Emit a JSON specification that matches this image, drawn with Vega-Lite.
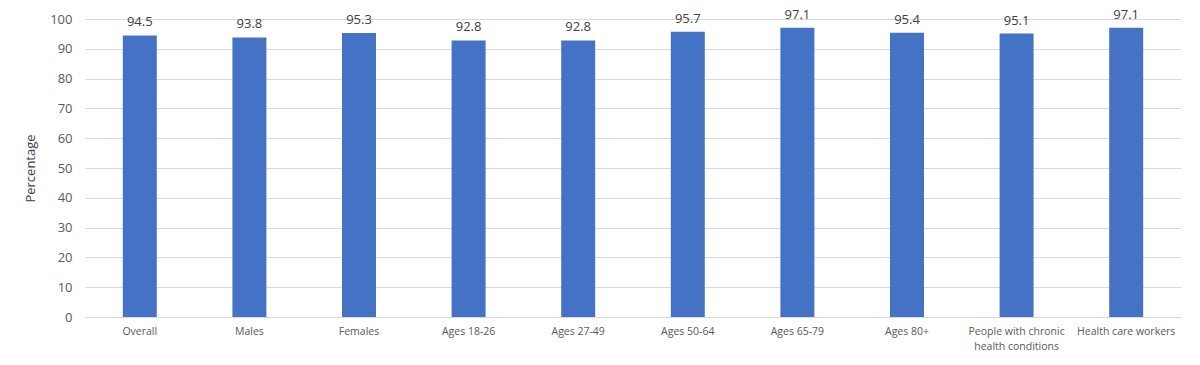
{
  "$schema": "https://vega.github.io/schema/vega-lite/v6.json",
  "autosize": {"type": "none"},
  "width": 1096,
  "height": 298,
  "padding": {"left": 85, "top": 19, "right": 19, "bottom": 48},
  "background": "white",
  "config": {
    "view": {"stroke": null},
    "font": "Open Sans"
  },
  "data": {
    "values": [
      {"group": "Overall", "pct": 94.5},
      {"group": "Males", "pct": 93.8},
      {"group": "Females", "pct": 95.3},
      {"group": "Ages 18-26", "pct": 92.8},
      {"group": "Ages 27-49", "pct": 92.8},
      {"group": "Ages 50-64", "pct": 95.7},
      {"group": "Ages 65-79", "pct": 97.1},
      {"group": "Ages 80+", "pct": 95.4},
      {"group": "People with chronic health conditions", "pct": 95.1},
      {"group": "Health care workers", "pct": 97.1}
    ]
  },
  "encoding": {
    "x": {
      "field": "group",
      "type": "nominal",
      "sort": null,
      "scale": {"paddingInner": 0.69, "paddingOuter": 0.345},
      "axis": {
        "title": null,
        "labelAngle": 0,
        "ticks": false,
        "domainColor": "#d9d9d9",
        "labelColor": "#595959",
        "labelFontSize": 10.5,
        "labelPadding": 9,
        "labelLineHeight": 15,
        "labelLimit": 200,
        "labelExpr": "datum.label == 'People with chronic health conditions' ? ['People with chronic', 'health conditions'] : datum.label"
      }
    },
    "y": {
      "field": "pct",
      "type": "quantitative",
      "scale": {"domain": [0, 100], "nice": false},
      "axis": {
        "title": "Percentage",
        "titleFontSize": 13,
        "titleFontWeight": "normal",
        "titleColor": "#404040",
        "titlePadding": 12,
        "values": [0, 10, 20, 30, 40, 50, 60, 70, 80, 90, 100],
        "labelOverlap": false,
        "ticks": false,
        "domain": false,
        "gridColor": "#d9d9d9",
        "labelColor": "#595959",
        "labelFontSize": 13,
        "labelPadding": 13
      }
    }
  },
  "layer": [
    {"mark": {"type": "bar", "color": "#4472C4"}},
    {
      "mark": {"type": "text", "baseline": "bottom", "dy": -6, "fontSize": 13, "color": "#404040"},
      "encoding": {"text": {"field": "pct", "type": "quantitative", "format": ".1f"}}
    }
  ]
}
